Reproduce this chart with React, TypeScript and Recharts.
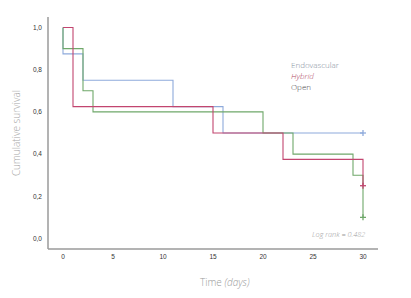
import React from 'react';
import { ComposedChart, Line, Scatter, XAxis, YAxis } from 'recharts';

const endoTimes = [0, 0, 2, 11, 16, 30];
const endoSurv = [1.0, 0.875, 0.75, 0.625, 0.5, 0.5];
const hybridTimes = [0, 1, 15, 22, 30];
const hybridSurv = [1.0, 0.625, 0.5, 0.375, 0.25];
const openTimes = [0, 0, 2, 3, 20, 23, 29, 30];
const openSurv = [1.0, 0.9, 0.7, 0.6, 0.5, 0.4, 0.3, 0.1];

const endoCensor = [{ t: 30, s: 0.5 }];
const hybridCensor = [{ t: 30, s: 0.25 }];
const openCensor = [{ t: 30, s: 0.1 }];

const xTicks = [0, 5, 10, 15, 20, 25, 30];
const yTicks = [0, 0.2, 0.4, 0.6, 0.8, 1.0];

const COL_ENDO = '#8eaadb';
const COL_HYB = '#c2456f';
const COL_OPEN = '#6fa86a';

const build = (ts: number[], ss: number[]) => ts.map((t, i) => ({ t, s: ss[i] }));

const plus = (color: string) => (props: any) => {
  const { cx, cy } = props;
  if (cx == null || cy == null) return <g />;
  return (
    <g>
      <line x1={cx - 3} x2={cx + 3} y1={cy} y2={cy} stroke={color} strokeWidth={1.3} />
      <line x1={cx} x2={cx} y1={cy - 3} y2={cy + 3} stroke={color} strokeWidth={1.3} />
    </g>
  );
};

const fmt = (v: number) => v.toFixed(1).replace('.', ',');

export default function App() {
  const font = "'Open Sans', 'DejaVu Sans', sans-serif";
  return (
    <div style={{ position: 'absolute', left: 0, top: 0, width: 411, height: 298, background: '#fff', fontFamily: font }}>
      <ComposedChart width={411} height={298} margin={{ top: 17, right: 33, left: 8, bottom: 19 }}>
        <XAxis
          type="number"
          dataKey="t"
          domain={[-1.5, 31.5]}
          ticks={xTicks}
          allowDataOverflow
          height={30}
          tickLine={false}
          tickSize={5}
          tickMargin={0}
          axisLine={{ stroke: '#9a9a9a', strokeWidth: 1.5 }}
          tick={{ fontSize: 6.5, fill: '#333', fontFamily: 'Liberation Sans, Arial, sans-serif' }}
        />
        <YAxis
          type="number"
          dataKey="s"
          domain={[-0.05, 1.05]}
          ticks={yTicks}
          allowDataOverflow
          width={40}
          tickLine={false}
          tickSize={6}
          tickMargin={0}
          tickFormatter={fmt}
          axisLine={{ stroke: '#9a9a9a', strokeWidth: 1.5 }}
          tick={{ fontSize: 6.5, fill: '#333', fontFamily: 'Liberation Sans, Arial, sans-serif' }}
        />
        <Line data={build(endoTimes, endoSurv)} dataKey="s" type="stepAfter" stroke={COL_ENDO} strokeWidth={1.1} dot={false} isAnimationActive={false} />
        <Line data={build(openTimes, openSurv)} dataKey="s" type="stepAfter" stroke={COL_OPEN} strokeWidth={1.1} dot={false} isAnimationActive={false} />
        <Line data={build(hybridTimes, hybridSurv)} dataKey="s" type="stepAfter" stroke={COL_HYB} strokeWidth={1.1} dot={false} isAnimationActive={false} />
        <Scatter data={endoCensor} dataKey="s" shape={plus(COL_ENDO)} isAnimationActive={false} />
        <Scatter data={hybridCensor} dataKey="s" shape={plus(COL_HYB)} isAnimationActive={false} />
        <Scatter data={openCensor} dataKey="s" shape={plus(COL_OPEN)} isAnimationActive={false} />
      </ComposedChart>

      <div style={{ position: 'absolute', left: 291, top: 59, fontSize: 8, lineHeight: '11px', fontWeight: 300 }}>
        <div style={{ color: '#7f8e9c' }}>Endovascular</div>
        <div style={{ color: '#b04862', fontStyle: 'italic' }}>Hybrid</div>
        <div style={{ color: '#4a4a4a' }}>Open</div>
      </div>

      <div style={{ position: 'absolute', left: 312, top: 229, fontSize: 7.3, color: '#9a9a9a', fontStyle: 'italic', fontWeight: 300, whiteSpace: 'nowrap' }}>
        Log rank = 0.482
      </div>

      <div style={{ position: 'absolute', left: 200, top: 275, fontSize: 10, color: '#9a9a9a', fontWeight: 300, whiteSpace: 'nowrap' }}>
        Time <span style={{ fontStyle: 'italic' }}>(days)</span>
      </div>

      <div
        style={{
          position: 'absolute',
          left: 16,
          top: 133,
          transform: 'translate(-50%, -50%) rotate(-90deg)',
          fontSize: 10,
          color: '#a8a8a8',
          fontWeight: 300,
          whiteSpace: 'nowrap',
        }}
      >
        Cumulative survival
      </div>
    </div>
  );
}
